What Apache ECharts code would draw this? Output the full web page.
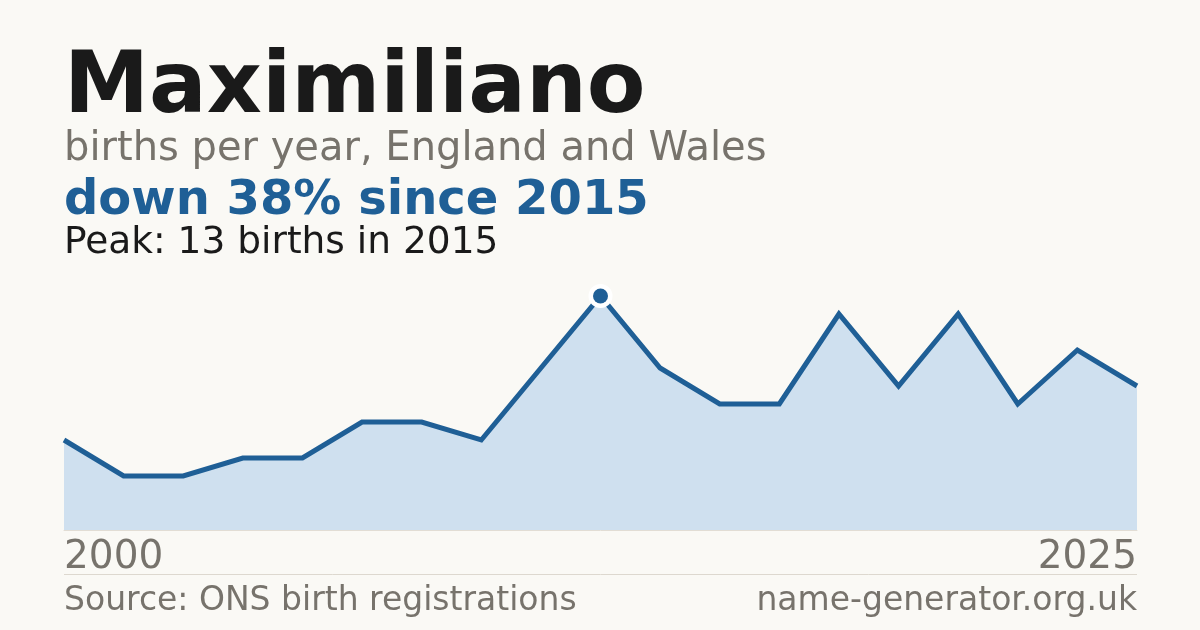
<!DOCTYPE html>
<html>
<head>
<meta charset="utf-8">
<script src="https://cdn.jsdelivr.net/npm/echarts@6/dist/echarts.min.js"></script>
<style>
html,body{margin:0;padding:0;background:#faf9f5;}
#chart{width:1200px;height:630px;}
</style>
</head>
<body>
<div id="chart"></div>
<script>
const years = ['2000','2002','2003','2005','2006','2007','2008','2010','2014','2015','2016','2017','2018','2019','2020','2021','2022','2023','2025'];
const births = [5,3,3,4,4,6,6,5,9,13,9,7,7,12,8,12,7,10,8];
const titleText = 'Maximiliano';
const subtitleText = 'births per year, England and Wales';
const changeText = 'down 38% since 2015';
const peakText = 'Peak: 13 births in 2015';
const sourceText = 'Source: ONS birth registrations';
const siteText = 'name-generator.org.uk';

const peakIdx = births.indexOf(Math.max(...births));
const FONT = '"DejaVu Sans", sans-serif';
const BLUE = '#1f5f96';
const GREY = '#77736c';
const BG = '#faf9f5';

const chart = echarts.init(document.getElementById('chart'), null, {renderer:'canvas'});
chart.setOption({
  backgroundColor: BG,
  animation: false,
  grid: {left: 64, right: 63, top: 296, bottom: 100},
  xAxis: {
    type: 'category',
    data: years,
    boundaryGap: false,
    axisLine: {show: true, lineStyle: {color: '#e2ddd4', width: 1}},
    axisTick: {show: false},
    splitLine: {show: false},
    axisLabel: {
      interval: (i) => i === 0 || i === years.length - 1,
      color: GREY,
      fontFamily: FONT,
      fontSize: 39,
      margin: 8,
      alignMinLabel: 'left',
      alignMaxLabel: 'right'
    }
  },
  yAxis: {type: 'value', min: 0, max: 13, show: false},
  series: [
    {
      type: 'line',
      data: births,
      showSymbol: false,
      symbol: 'none',
      lineStyle: {color: BLUE, width: 5, join: 'miter'},
      areaStyle: {color: '#cfe0ef', opacity: 1},
      z: 2
    },
    {
      type: 'scatter',
      data: [[peakIdx, births[peakIdx]]],
      symbol: 'circle',
      symbolSize: 24,
      itemStyle: {color: '#ffffff', opacity: 1},
      z: 3,
      silent: true
    },
    {
      type: 'scatter',
      data: [[peakIdx, births[peakIdx]]],
      symbol: 'circle',
      symbolSize: 15,
      itemStyle: {color: BLUE, opacity: 1},
      z: 4,
      silent: true
    }
  ],
  graphic: [
    {type:'text', x:64, y:90, style:{text:titleText, font:'bold 85.5px ' + FONT, fill:'#1a1a1a', textAlign:'left', textVerticalAlign:'middle'}},
    {type:'text', x:64, y:150, style:{text:subtitleText, font:'40px ' + FONT, fill:GREY, textAlign:'left', textVerticalAlign:'middle'}},
    {type:'text', x:64, y:202, style:{text:changeText, font:'bold 48px ' + FONT, fill:BLUE, textAlign:'left', textVerticalAlign:'middle'}},
    {type:'text', x:64, y:243, style:{text:peakText, font:'37.5px ' + FONT, fill:'#1a1a1a', textAlign:'left', textVerticalAlign:'middle'}},
    {type:'line', shape:{x1:64, y1:574.5, x2:1137, y2:574.5}, style:{stroke:'#ddd8cf', lineWidth:1}},
    {type:'text', x:64, y:601, style:{text:sourceText, font:'33px ' + FONT, fill:GREY, textAlign:'left', textVerticalAlign:'middle'}},
    {type:'text', x:1137, y:601, style:{text:siteText, font:'33px ' + FONT, fill:GREY, textAlign:'right', textVerticalAlign:'middle'}}
  ]
});
</script>
</body>
</html>
